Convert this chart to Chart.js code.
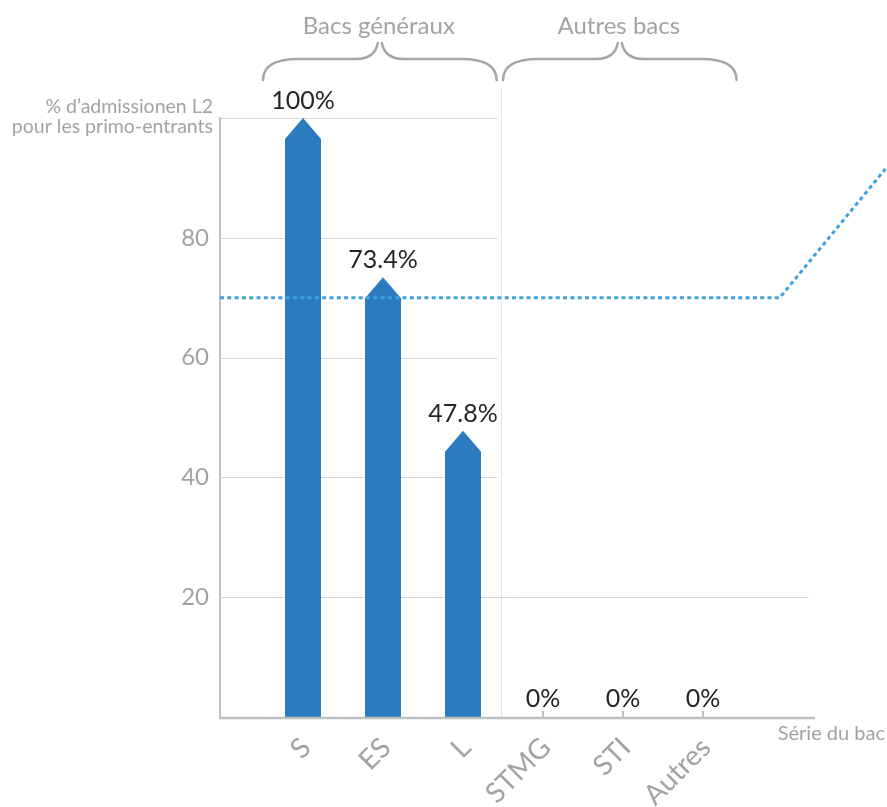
<!DOCTYPE html>
<html><head><meta charset="utf-8">
<script src="https://cdn.jsdelivr.net/npm/chart.js@4.4.1/dist/chart.umd.min.js"></script>
<style>html,body{margin:0;padding:0;background:#fff;} #wrap{width:887px;height:807px;position:relative;}</style>
</head><body><div id="wrap"><canvas id="c"></canvas></div>
<script>
// ---- data ----
const categories = ['S', 'ES', 'L', 'STMG', 'STI', 'Autres'];
const admissionRates = [100, 73.4, 47.8, 0, 0, 0];
const yTickValues = [20, 40, 60, 80];
const gridValues = [20, 40, 60, 80, 100];
const groupLabels = ['Bacs généraux', 'Autres bacs'];
const groupFirst = [0, 3];
const groupLast = [2, 5];
const thresholdX = [-1.0375, 5.96, 7.28];
const thresholdY = [70, 70, 91.5];
const yAxisTitle = ['% d’admissionen L2', 'pour les primo-entrants'];
const xAxisTitle = 'Série du bac';

// ---- styles ----
const FONT = 'Lato, "Noto Sans", sans-serif';
const GRAY = '#a3a3a3';
const BAR_COLOR = '#2d7bbf';
const AXIS_COLOR = '#bfbfbf';

const deco = {
  id: 'deco',
  beforeDatasetsDraw(chart) {
    const {ctx, scales: {x, y}, chartArea: a} = chart;
    ctx.save();
    ctx.strokeStyle = '#d6d6d6'; ctx.lineWidth = 1;
    gridValues.forEach(v => {
      const py = Math.round(y.getPixelForValue(v)) + 0.5;
      const end = v === 20 ? x.getPixelForValue(6.32) : x.getPixelForValue(2.43);
      ctx.beginPath(); ctx.moveTo(a.left, py); ctx.lineTo(end, py); ctx.stroke();
    });
    const sx = Math.round(x.getPixelForValue(2.48)) + 0.5;
    ctx.strokeStyle = '#e3e3e3';
    ctx.beginPath(); ctx.moveTo(sx, 88); ctx.lineTo(sx, a.bottom); ctx.stroke();
    // ticks
    ctx.strokeStyle = AXIS_COLOR; ctx.lineWidth = 2;
    categories.forEach((c, i) => {
      const px = Math.round(x.getPixelForValue(i));
      ctx.beginPath(); ctx.moveTo(px, a.bottom - 6); ctx.lineTo(px, a.bottom + 2); ctx.stroke();
    });
    ctx.restore();
  },
  afterDatasetDraw(chart, args) {
    if (args.index !== 0) return;
    const ctx = chart.ctx;
    ctx.save(); ctx.fillStyle = BAR_COLOR;
    args.meta.data.forEach(el => {
      const {x: cx, y: top, base, width} = el.getProps(['x', 'y', 'base', 'width'], true);
      if (base - top < 0.5) return;
      const h = Math.min(21, base - top);
      ctx.beginPath();
      ctx.moveTo(cx - width / 2, base);
      ctx.lineTo(cx - width / 2, top + h);
      ctx.lineTo(cx, top);
      ctx.lineTo(cx + width / 2, top + h);
      ctx.lineTo(cx + width / 2, base);
      ctx.closePath(); ctx.fill();
    });
    ctx.restore();
  },
  afterDraw(chart) {
    const {ctx, scales: {x, y}, chartArea: a} = chart;
    ctx.save();
    // x axis line
    ctx.strokeStyle = AXIS_COLOR; ctx.lineWidth = 2.5;
    ctx.beginPath(); ctx.moveTo(a.left - 1, a.bottom + 1); ctx.lineTo(x.getPixelForValue(6.4), a.bottom + 1); ctx.stroke();

    // data labels
    const meta = chart.getDatasetMeta(0);
    ctx.fillStyle = '#262626'; ctx.font = '25px ' + FONT; ctx.textAlign = 'center'; ctx.textBaseline = 'alphabetic';
    meta.data.forEach((el, i) => {
      const v = admissionRates[i];
      const ty = v > 0 ? el.y - 9 : el.base - 10;
      ctx.fillText(String(v) + '%', el.x, ty);
    });

    // x category labels, rotated
    ctx.fillStyle = GRAY; ctx.font = '28px ' + FONT;
    categories.forEach((c, i) => {
      const px = x.getPixelForValue(i);
      ctx.save();
      ctx.translate(px + 3, a.bottom + 26);
      ctx.rotate(-Math.PI / 4);
      ctx.textAlign = 'right'; ctx.textBaseline = 'middle';
      ctx.fillText(c, 0, 0);
      ctx.restore();
    });

    // axis titles
    ctx.font = '19.5px ' + FONT; ctx.textAlign = 'right'; ctx.textBaseline = 'alphabetic';
    ctx.fillText(yAxisTitle[0], a.left - 7, 113);
    ctx.fillText(yAxisTitle[1], a.left - 7, 133);
    ctx.font = '20px ' + FONT;
    ctx.fillText(xAxisTitle, 885, a.bottom + 23);

    // group braces and titles
    ctx.strokeStyle = '#a6a6a6'; ctx.lineWidth = 2.5; ctx.lineCap = 'round';
    groupLabels.forEach((g, k) => {
      const x0 = x.getPixelForValue(groupFirst[k] - 0.5);
      const x1 = x.getPixelForValue(groupLast[k] + 0.42);
      const xc = (x0 + x1) / 2;
      const yb = 80, ym = 59, yt = 43;
      ctx.beginPath();
      ctx.moveTo(x0, yb);
      ctx.quadraticCurveTo(x0, ym, x0 + 35, ym);
      ctx.lineTo(xc - 24, ym);
      ctx.quadraticCurveTo(xc - 5, ym, xc - 2, yt);
      ctx.moveTo(xc + 2, yt);
      ctx.quadraticCurveTo(xc + 5, ym, xc + 24, ym);
      ctx.lineTo(x1 - 35, ym);
      ctx.quadraticCurveTo(x1, ym, x1, yb);
      ctx.stroke();
      ctx.fillStyle = GRAY; ctx.font = '24px ' + FONT; ctx.textAlign = 'center';
      ctx.fillText(g, xc - 1, 34);
    });
    ctx.restore();
  }
};

new Chart(document.getElementById('c'), {
  data: {
    datasets: [
      {
        type: 'bar',
        data: categories.map((c, i) => ({x: i, y: admissionRates[i]})),
        backgroundColor: 'rgba(0,0,0,0)',
        barThickness: 36,
        order: 1
      },
      {
        type: 'line',
        data: thresholdX.map((v, i) => ({x: v, y: thresholdY[i]})),
        borderColor: '#41a1de',
        borderWidth: 3,
        borderDash: [4, 3.3],
        pointRadius: 0,
        fill: false,
        tension: 0,
        order: 0
      }
    ]
  },
  options: {
    responsive: true,
    maintainAspectRatio: false,
    animation: false,
    layout: {padding: {top: 118, bottom: 90, left: 0, right: 0}},
    plugins: {legend: {display: false}, tooltip: {enabled: false}},
    scales: {
      x: {type: 'linear', min: -1.0375, max: 7.3, offset: false, display: false},
      y: {
        min: 0, max: 100,
        afterFit(s) { s.width = 220; },
        grid: {display: false, drawTicks: false},
        border: {display: true, color: AXIS_COLOR, width: 2},
        ticks: {
          stepSize: 20, padding: 11, color: GRAY,
          font: {family: FONT, size: 24},
          callback: v => yTickValues.includes(v) ? String(v) : ''
        }
      }
    }
  },
  plugins: [deco]
});
</script>
</body></html>
